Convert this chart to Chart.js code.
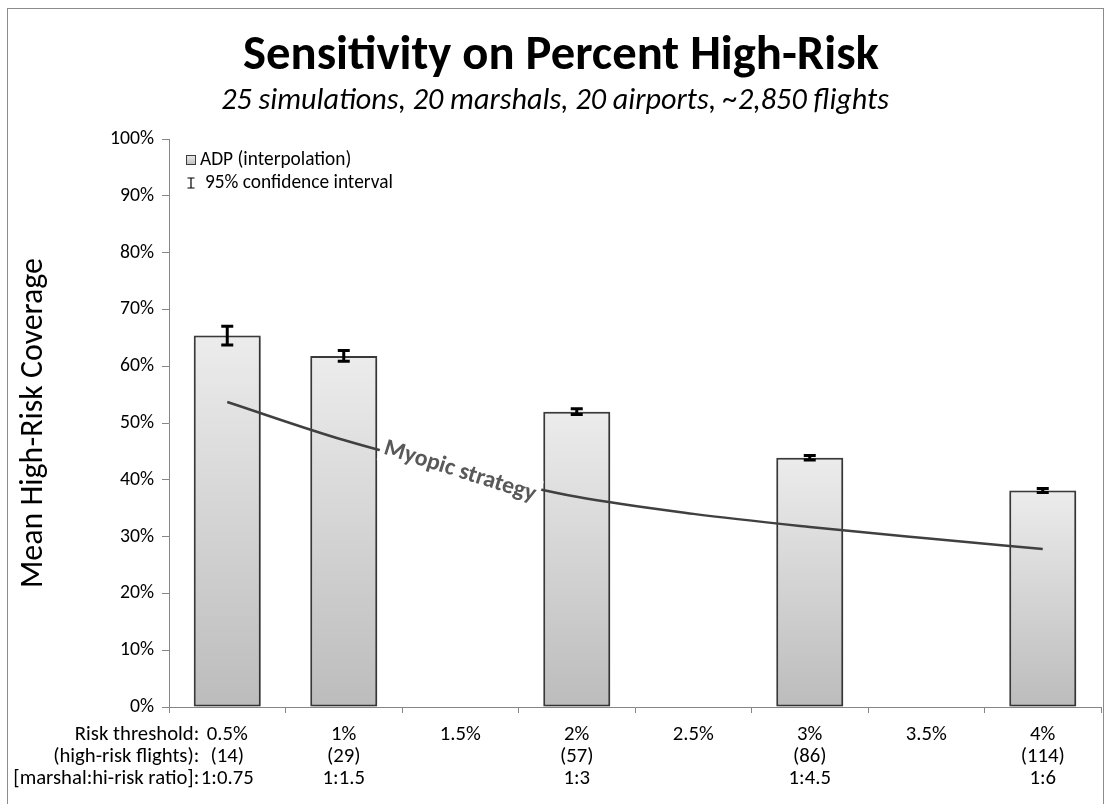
<!DOCTYPE html>
<html>
<head>
<meta charset="utf-8">
<script src="https://cdn.jsdelivr.net/npm/chart.js@4.4.1/dist/chart.umd.min.js"></script>
<style>
  html, body { margin: 0; padding: 0; background: #ffffff; }
  #wrap { width: 1105px; height: 804px; position: relative; }
</style>
</head>
<body>
<div id="wrap"><canvas id="c"></canvas></div>
<script>
// ---------------- data ----------------
const categories = ['0.5%', '1%', '1.5%', '2%', '2.5%', '3%', '3.5%', '4%'];
const flights    = ['(14)', '(29)', '', '(57)', '', '(86)', '', '(114)'];
const ratios     = ['1:0.75', '1:1.5', '', '1:3', '', '1:4.5', '', '1:6'];
const rowHeaders = ['Risk threshold:', '(high-risk flights):', '[marshal:hi-risk ratio]:'];
const adp        = [65.4, 61.8, null, 52.0, null, 43.9, null, 38.1];   // bar heights (%)
const ci95       = [1.65, 0.95, null, 0.5, null, 0.4, null, 0.35];     // half-width of 95% CI (%)
const myopic     = [53.7, 47.0, 41.6, 37.0, 34.0, 31.7, 29.7, 27.8];   // myopic strategy curve (%)
const yTickStep  = 10;
const yMin = 0, yMax = 100;

const titleText    = 'Sensitivity on Percent High-Risk';
const subtitleText = '25 simulations, 20 marshals, 20 airports, ~2,850 flights';
const yTitleText   = 'Mean High-Risk Coverage';
const legendBarText = 'ADP (interpolation)';
const legendCiText  = '95% confidence interval';
const lineLabelText = 'Myopic strategy';

// ---------------- fonts ----------------
const FAM = "Carlito, Lato, 'Open Sans', sans-serif";
const mctx = document.createElement('canvas').getContext('2d');
function fit(text, font, target) {
  mctx.font = font.replace('{s}', '100px');
  return 100 * target / mctx.measureText(text).width;
}
const titleSize    = fit(titleText, 'bold {s} ' + FAM, 636);
const subtitleSize = fit(subtitleText, 'italic {s} ' + FAM, 668);
const yTitleSize   = fit(yTitleText, '{s} ' + FAM, 330);
const xLabSize     = fit(rowHeaders[2], '{s} ' + FAM, 186);
const legSize      = fit(legendCiText, '{s} ' + FAM, 188);
const lineLabSize  = fit(lineLabelText, 'bold {s} ' + FAM, 158);
const yTickSize    = fit('100%', '{s} ' + FAM, 44);

const labels = categories.map((c, i) => [c, flights[i], ratios[i]]);

// ---------------- plugins ----------------
const decor = {
  id: 'decor',
  beforeDraw(chart) {
    const ctx = chart.ctx;
    ctx.save();
    ctx.fillStyle = '#fff';
    ctx.fillRect(0, 0, chart.width, chart.height);
    ctx.strokeStyle = '#8c8c8c';
    ctx.lineWidth = 1;
    ctx.strokeRect(7.5, 8.5, 1096, 820);
    ctx.restore();
  },
  beforeDatasetDraw(chart, args) {
    if (args.index === 0) {
      const ctx = chart.ctx;
      ctx.save();
      ctx.shadowColor = 'rgba(0,0,0,0.28)';
      ctx.shadowBlur = 4;
      ctx.shadowOffsetX = 1;
      ctx.shadowOffsetY = 1;
    }
  },
  afterDatasetDraw(chart, args) {
    if (args.index === 0) chart.ctx.restore();
  },
  afterDatasetsDraw(chart) {
    const ctx = chart.ctx;
    const xs = chart.scales.x, ys = chart.scales.y;
    const ca = chart.chartArea;
    // error bars
    ctx.save();
    ctx.strokeStyle = '#000';
    ctx.lineWidth = 3;
    ctx.lineCap = 'butt';
    adp.forEach((v, i) => {
      if (v == null || ci95[i] == null) return;
      const x = xs.getPixelForValue(i);
      const yt = ys.getPixelForValue(v + ci95[i]);
      const yb = ys.getPixelForValue(v - ci95[i]);
      ctx.beginPath();
      ctx.moveTo(x, yt); ctx.lineTo(x, yb);
      ctx.moveTo(x - 6, yt); ctx.lineTo(x + 6, yt);
      ctx.moveTo(x - 6, yb); ctx.lineTo(x + 6, yb);
      ctx.stroke();
    });
    ctx.restore();

    // label on myopic line
    const meta = chart.getDatasetMeta(1);
    const p = meta.data[2];
    const ang = 17.5 * Math.PI / 180;
    ctx.save();
    ctx.translate(p.x, p.y);
    ctx.rotate(ang);
    ctx.font = 'bold ' + lineLabSize + 'px ' + FAM;
    const w = ctx.measureText(lineLabelText).width;
    ctx.fillStyle = '#ffffff';
    ctx.fillRect(-w / 2 - 4, -lineLabSize * 0.62, w + 8, lineLabSize * 1.24);
    ctx.fillStyle = '#595959';
    ctx.textAlign = 'center';
    ctx.textBaseline = 'middle';
    ctx.fillText(lineLabelText, 0, 1);
    ctx.restore();

    // legend
    ctx.save();
    const lx = ca.left + 17, ly1 = ca.top + 21, ly2 = ca.top + 44;
    const g = ctx.createLinearGradient(0, ly1 - 5, 0, ly1 + 5);
    g.addColorStop(0, '#ececec'); g.addColorStop(1, '#bdbdbd');
    ctx.fillStyle = g;
    ctx.fillRect(lx, ly1 - 5, 10, 10);
    ctx.strokeStyle = '#3c3c3c';
    ctx.lineWidth = 1;
    ctx.strokeRect(lx + 0.5, ly1 - 4.5, 9, 9);
    ctx.strokeStyle = '#000';
    ctx.lineWidth = 1.2;
    ctx.beginPath();
    ctx.moveTo(lx + 5, ly2 - 5); ctx.lineTo(lx + 5, ly2 + 5);
    ctx.moveTo(lx + 1.5, ly2 - 5); ctx.lineTo(lx + 8.5, ly2 - 5);
    ctx.moveTo(lx + 1.5, ly2 + 5); ctx.lineTo(lx + 8.5, ly2 + 5);
    ctx.stroke();
    ctx.fillStyle = '#000';
    ctx.font = legSize + 'px ' + FAM;
    ctx.textBaseline = 'middle';
    ctx.textAlign = 'left';
    ctx.fillText(legendBarText, lx + 14, ly1);
    ctx.fillText(legendCiText, lx + 19, ly2);
    ctx.restore();
  },
  afterDraw(chart) {
    const ctx = chart.ctx;
    const ca = chart.chartArea;
    ctx.save();
    ctx.fillStyle = '#000';
    ctx.textAlign = 'center';
    ctx.textBaseline = 'middle';
    ctx.font = 'bold ' + titleSize + 'px ' + FAM;
    ctx.fillText(titleText, 561, 57);
    ctx.font = 'italic ' + subtitleSize + 'px ' + FAM;
    ctx.fillText(subtitleText, 555, 101);
    // y axis title
    ctx.save();
    ctx.translate(34, (ca.top + ca.bottom) / 2);
    ctx.rotate(-Math.PI / 2);
    ctx.font = yTitleSize + 'px ' + FAM;
    ctx.fillText(yTitleText, 0, 0);
    ctx.restore();
    // x row headers
    ctx.font = xLabSize + 'px ' + FAM;
    ctx.textAlign = 'right';
    const xs = chart.scales.x;
    const first = xs.getPixelForValue(0) - 28;
    rowHeaders.forEach((h, i) => ctx.fillText(h, first, ca.bottom + 28 + i * 22));
    ctx.restore();
  }
};

// ---------------- chart ----------------
const chart = new Chart(document.getElementById('c'), {
  data: {
    labels: labels,
    datasets: [
      {
        type: 'bar',
        label: legendBarText,
        data: adp,
        order: 1,
        categoryPercentage: 1.0,
        barPercentage: 0.575,
        borderColor: '#3c3c3c',
        borderWidth: 2,
        borderSkipped: false,
        backgroundColor: (c) => {
          const ch = c.chart;
          if (!ch.chartArea || c.raw == null) return '#dddddd';
          const y0 = ch.scales.y.getPixelForValue(c.raw);
          const y1 = ch.scales.y.getPixelForValue(0);
          const g = ch.ctx.createLinearGradient(0, y0, 0, y1);
          g.addColorStop(0, '#ececec');
          g.addColorStop(1, '#bcbcbc');
          return g;
        }
      },
      {
        type: 'line',
        label: lineLabelText,
        data: myopic,
        order: 0,
        borderColor: '#404040',
        borderWidth: 2.5,
        pointRadius: 0,
        fill: false,
        cubicInterpolationMode: 'monotone'
      }
    ]
  },
  options: {
    responsive: true,
    maintainAspectRatio: false,
    animation: false,
    events: [],
    layout: { padding: { top: 139, right: 4, left: 0, bottom: 0 } },
    plugins: { legend: { display: false }, tooltip: { enabled: false }, title: { display: false } },
    scales: {
      x: {
        type: 'category',
        offset: true,
        afterFit(s) { s.height = 97; },
        grid: { offset: true, drawOnChartArea: false, tickLength: 6, color: '#868686', lineWidth: 1 },
        border: { color: '#868686', width: 1 },
        ticks: {
          color: '#000',
          maxRotation: 0,
          autoSkip: false,
          padding: 11,
          font: { family: FAM, size: xLabSize, lineHeight: 22 / xLabSize }
        }
      },
      y: {
        min: yMin, max: yMax,
        afterFit(s) { s.width = 169; },
        grid: { drawOnChartArea: false, tickLength: 7, color: '#868686', lineWidth: 1 },
        border: { color: '#868686', width: 1 },
        ticks: {
          stepSize: yTickStep,
          color: '#000',
          padding: 8,
          font: { family: FAM, size: yTickSize },
          callback: (v) => v + '%'
        }
      }
    }
  },
  plugins: [decor]
});
</script>
</body>
</html>
